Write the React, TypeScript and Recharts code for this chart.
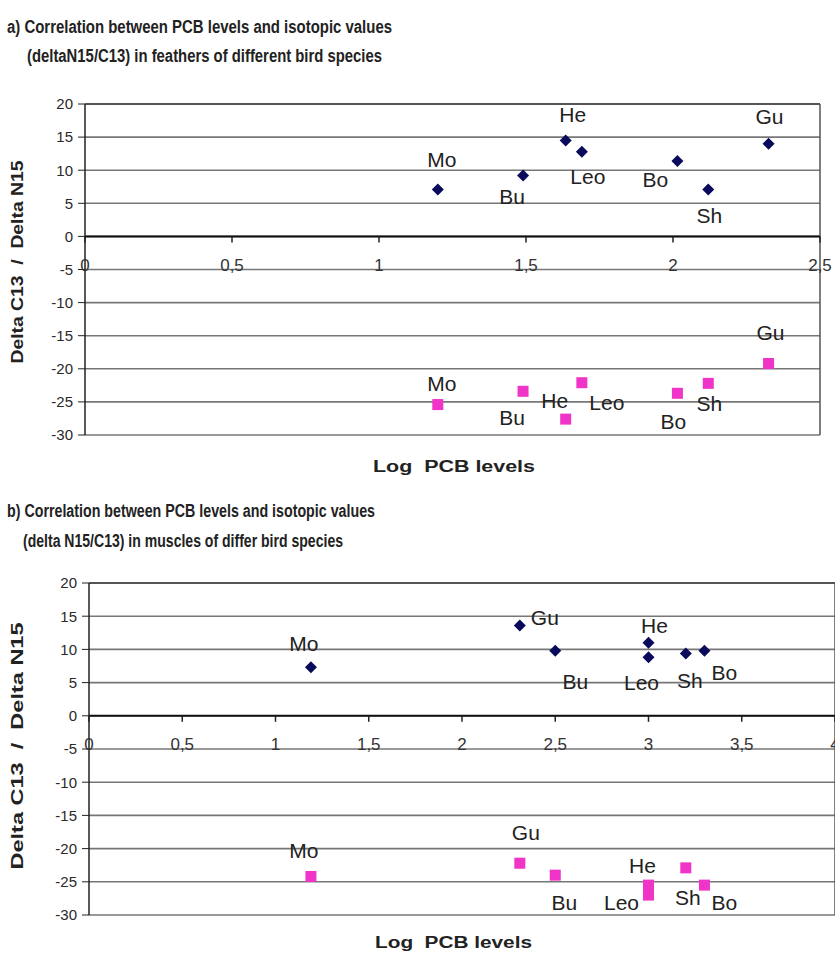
import React from 'react';
import { ScatterChart, Scatter, XAxis, YAxis, CartesianGrid, ReferenceLine } from 'recharts';

// species codes (same order for both panels)
const species = ['Mo', 'Bu', 'He', 'Leo', 'Bo', 'Sh', 'Gu'];

// a) feathers
const featherLogPcb = [1.2, 1.49, 1.635, 1.69, 2.015, 2.12, 2.325];
const featherN15 = [7.1, 9.2, 14.5, 12.8, 11.4, 7.1, 14.0];
const featherC13 = [-25.4, -23.4, -27.6, -22.1, -23.7, -22.2, -19.2];

// b) muscles
const muscleLogPcb = [1.19, 2.5, 3.0, 3.0, 3.3, 3.2, 2.31];
const muscleN15 = [7.3, 9.8, 11.0, 8.8, 9.8, 9.4, 13.6];
const muscleC13 = [-24.2, -24.0, -25.5, -27.0, -25.5, -22.9, -22.2];

const yTicks = [20, 15, 10, 5, 0, -5, -10, -15, -20, -25, -30];
const featherXTicks = [0, 0.5, 1, 1.5, 2, 2.5];
const muscleXTicks = [0, 0.5, 1, 1.5, 2, 2.5, 3, 3.5, 4];

// label placement next to each marker (dx, dy in px)
const featherN15Lbl: Record<string, number[]> = { Mo: [4, -30], Bu: [-11, 21], He: [7, -26], Leo: [6, 25], Bo: [-22, 19], Sh: [1, 26], Gu: [1, -27] };
const featherC13Lbl: Record<string, number[]> = { Mo: [4, -21], Bu: [-11, 26], He: [-11, -19], Leo: [25, 20], Bo: [-4, 28], Sh: [1, 20], Gu: [2, -31] };
const muscleN15Lbl: Record<string, number[]> = { Mo: [-7, -24], Gu: [25, -8], Bu: [20, 31], He: [6, -17], Leo: [-7, 25], Sh: [4, 27], Bo: [20, 22] };
const muscleC13Lbl: Record<string, number[]> = { Mo: [-7, -26], Gu: [6, -31], Bu: [9, 27], He: [-6, -20], Leo: [-27, 7], Sh: [2, 30], Bo: [20, 17] };

const build = (xs: number[], ys: number[]) => species.map((name, i) => ({ name, x: xs[i], y: ys[i] }));

const NAVY = '#0a0a5c';
const PINK = '#f034c8';
const FONT = '"Liberation Sans", Arial, sans-serif';

const labelText = (cx: number, cy: number, name: string, off: Record<string, number[]>) => {
  const [dx, dy] = off[name] || [0, -20];
  return (
    <text x={cx + dx} y={cy + dy} textAnchor="middle" dominantBaseline="central" fontSize={21} fill="#222" fontFamily={FONT}>
      {name}
    </text>
  );
};

const diamond = (off: Record<string, number[]>) => (props: any) => {
  const { cx, cy, payload } = props;
  return (
    <g>
      <polygon points={`${cx},${cy - 6} ${cx + 6},${cy} ${cx},${cy + 6} ${cx - 6},${cy}`} fill={NAVY} />
      {labelText(cx, cy, payload.name, off)}
    </g>
  );
};

const square = (off: Record<string, number[]>) => (props: any) => {
  const { cx, cy, payload } = props;
  return (
    <g>
      <rect x={cx - 5.5} y={cy - 5.5} width={11} height={11} fill={PINK} />
      {labelText(cx, cy, payload.name, off)}
    </g>
  );
};

// x axis sits on y = 0, so ticks are drawn there
const makeXTick = (zeroY: number) => (props: any) => {
  const { x, payload } = props;
  return (
    <g>
      <line x1={x} x2={x} y1={zeroY} y2={zeroY + 6} stroke="#222" strokeWidth={1.5} />
      <text x={x} y={zeroY + 29} textAnchor="middle" dominantBaseline="central" fontSize={17} fill="#333" fontFamily={FONT}>
        {String(payload.value).replace('.', ',')}
      </text>
    </g>
  );
};

interface PanelProps {
  width: number;
  height: number;
  margin: { top: number; right: number; left: number; bottom: number };
  xMax: number;
  xTicks: number[];
  n15: any[];
  c13: any[];
  n15Lbl: Record<string, number[]>;
  c13Lbl: Record<string, number[]>;
  plotH: number;
}

const Panel: React.FC<PanelProps> = ({ width, height, margin, xMax, xTicks, n15, c13, n15Lbl, c13Lbl, plotH }) => {
  const zeroY = margin.top + (plotH * 20) / 50;
  return (
    <ScatterChart width={width} height={height} margin={margin}>
      <CartesianGrid horizontal vertical={false} stroke="#777" strokeWidth={1.6} />
      <XAxis
        type="number"
        dataKey="x"
        domain={[0, xMax]}
        ticks={xTicks}
        interval={0}
        axisLine={false}
        tickLine={false}
        height={30}
        tick={makeXTick(zeroY)}
      />
      <YAxis
        type="number"
        dataKey="y"
        domain={[-30, 20]}
        ticks={yTicks}
        interval={0}
        width={45}
        axisLine={{ stroke: '#222', strokeWidth: 1.5 }}
        tickLine={{ stroke: '#222' }}
        tickSize={7}
        tickMargin={5}
        tick={{ fill: '#2a2a2a', fontSize: 15, fontFamily: FONT }}
      />
      <ReferenceLine x={xMax} stroke="#555" strokeWidth={1.5} />
      <ReferenceLine y={20} stroke="#555" strokeWidth={1.8} />
      <ReferenceLine y={0} stroke="#111" strokeWidth={2} />
      <Scatter data={n15} shape={diamond(n15Lbl)} isAnimationActive={false} />
      <Scatter data={c13} shape={square(c13Lbl)} isAnimationActive={false} />
    </ScatterChart>
  );
};

const xTitle = 'Log\u00a0\u00a0PCB levels';
const yTitle = 'Delta C13\u00a0\u00a0/\u00a0\u00a0Delta N15';

const Titles: React.FC = () => (
  <svg width={835} height={953} style={{ position: 'absolute', left: 0, top: 0, pointerEvents: 'none' }} fontFamily={FONT}>
    <g fontWeight="bold" fill="#222" fontSize={17.5}>
      <text x={7} y={33} textLength={385} lengthAdjust="spacingAndGlyphs">a) Correlation between PCB levels and isotopic values</text>
      <text x={27} y={62} textLength={355} lengthAdjust="spacingAndGlyphs">(deltaN15/C13) in feathers of different bird species</text>
      <text x={7} y={517} textLength={368} lengthAdjust="spacingAndGlyphs">b) Correlation between PCB levels and isotopic values</text>
      <text x={23} y={547} textLength={320} lengthAdjust="spacingAndGlyphs">(delta N15/C13) in muscles of differ bird species</text>
    </g>
    <g fontWeight="bold" fill="#222" fontSize={16}>
      <text x={373} y={472} textLength={162} lengthAdjust="spacingAndGlyphs">{xTitle}</text>
      <text x={375} y={948} textLength={157} lengthAdjust="spacingAndGlyphs">{xTitle}</text>
      <text x={0} y={0} transform="translate(23,262) rotate(-90)" textAnchor="middle" textLength={203} lengthAdjust="spacingAndGlyphs">{yTitle}</text>
      <text x={0} y={0} transform="translate(23,746) rotate(-90)" textAnchor="middle" textLength={247} lengthAdjust="spacingAndGlyphs">{yTitle}</text>
    </g>
  </svg>
);

export default function App() {
  return (
    <div style={{ position: 'absolute', left: 0, top: 0, width: 835, height: 953, overflow: 'hidden', background: '#fff' }}>
      <div style={{ position: 'absolute', left: 0, top: 0 }}>
        <Panel
          width={835}
          height={480}
          margin={{ top: 104, right: 15, left: 40, bottom: 15 }}
          plotH={331}
          xMax={2.5}
          xTicks={featherXTicks}
          n15={build(featherLogPcb, featherN15)}
          c13={build(featherLogPcb, featherC13)}
          n15Lbl={featherN15Lbl}
          c13Lbl={featherC13Lbl}
        />
      </div>
      <div style={{ position: 'absolute', left: 0, top: 480 }}>
        <Panel
          width={850}
          height={473}
          margin={{ top: 103, right: 15, left: 44, bottom: 8 }}
          plotH={332}
          xMax={4}
          xTicks={muscleXTicks}
          n15={build(muscleLogPcb, muscleN15)}
          c13={build(muscleLogPcb, muscleC13)}
          n15Lbl={muscleN15Lbl}
          c13Lbl={muscleC13Lbl}
        />
      </div>
      <Titles />
    </div>
  );
}
